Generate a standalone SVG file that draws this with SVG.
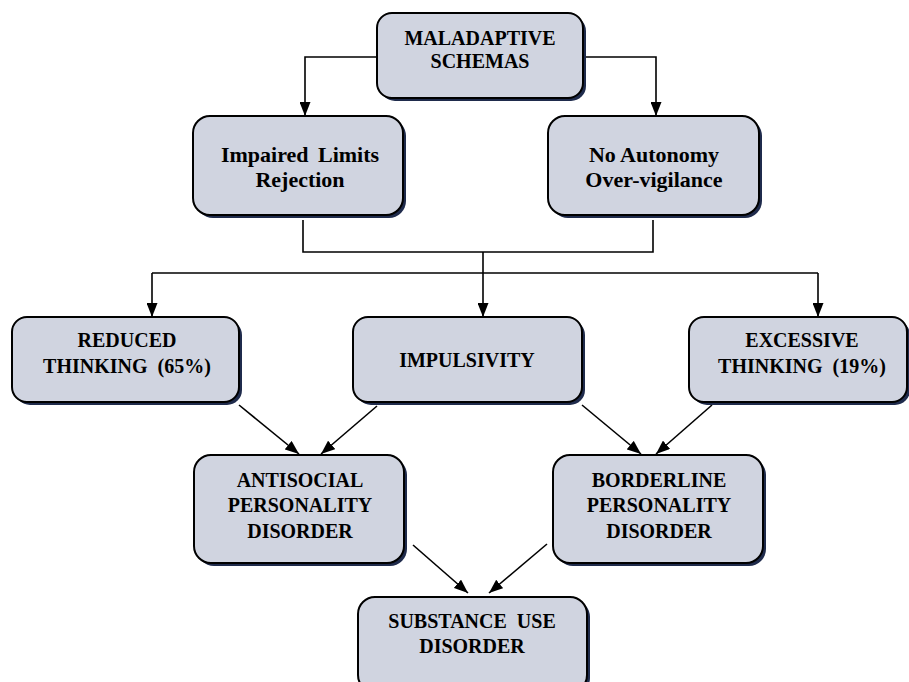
<svg xmlns="http://www.w3.org/2000/svg" width="909" height="682" viewBox="0 0 909 682">
<style>
.sh{fill:#1f2b4c}
.bx{fill:#d0d4e0;stroke:#000;stroke-width:2}
.t{font-family:"Liberation Serif","Times New Roman",serif;font-weight:bold;fill:#000;text-anchor:middle}
.c{font-size:20px}
.m{font-size:22px}
.ln{fill:none;stroke:#000;stroke-width:1.6}
</style>
<defs>
<marker id="ah" markerUnits="userSpaceOnUse" markerWidth="14" markerHeight="11" refX="14" refY="5.5" orient="auto">
<path d="M0,0 L14,5.5 L0,11 z" fill="#000"/>
</marker>
</defs>
<rect width="909" height="682" fill="#fff"/>
<g id="connectors">
<path class="ln" d="M377,57 H305 V116" marker-end="url(#ah)"/>
<path class="ln" d="M583,57 H656 V116" marker-end="url(#ah)"/>
<path class="ln" d="M303,220 V252 H653 V220"/>
<path class="ln" d="M483,252 V317" marker-end="url(#ah)"/>
<path class="ln" d="M152,273 H818"/>
<path class="ln" d="M152,273 V317" marker-end="url(#ah)"/>
<path class="ln" d="M818,273 V317" marker-end="url(#ah)"/>
<path class="ln" d="M239,405 L299,454" marker-end="url(#ah)"/>
<path class="ln" d="M377,406 L321,454" marker-end="url(#ah)"/>
<path class="ln" d="M582,405 L641,454" marker-end="url(#ah)"/>
<path class="ln" d="M712,405 L656,454" marker-end="url(#ah)"/>
<path class="ln" d="M413,545 L468,593" marker-end="url(#ah)"/>
<path class="ln" d="M547,544 L489,593" marker-end="url(#ah)"/>
</g>
<g id="maladaptive">
<rect class="sh" x="380" y="16" width="206" height="85" rx="15"/>
<rect class="bx" x="377" y="13" width="206" height="85" rx="15"/>
<text class="t c" x="480" y="45">MALADAPTIVE</text>
<text class="t c" x="480" y="68">SCHEMAS</text>
</g>
<g id="impaired">
<rect class="sh" x="196" y="119" width="210" height="99" rx="17"/>
<rect class="bx" x="193" y="116" width="210" height="99" rx="17"/>
<text class="t m" x="300" y="162" word-spacing="4">Impaired Limits</text>
<text class="t m" x="300" y="187">Rejection</text>
</g>
<g id="noautonomy">
<rect class="sh" x="551" y="119" width="211" height="99" rx="17"/>
<rect class="bx" x="548" y="116" width="211" height="99" rx="17"/>
<text class="t m" x="654" y="162">No Autonomy</text>
<text class="t m" x="654" y="187">Over-vigilance</text>
</g>
<g id="reduced">
<rect class="sh" x="15" y="320" width="227" height="85" rx="15"/>
<rect class="bx" x="12" y="317" width="227" height="85" rx="15"/>
<text class="t c" x="127" y="347">REDUCED</text>
<text class="t c" x="127" y="373" xml:space="preserve">THINKING  (65%)</text>
</g>
<g id="impulsivity">
<rect class="sh" x="356" y="320" width="229" height="85" rx="15"/>
<rect class="bx" x="353" y="317" width="229" height="85" rx="15"/>
<text class="t c" x="467" y="367">IMPULSIVITY</text>
</g>
<g id="excessive">
<rect class="sh" x="692" y="320" width="218" height="85" rx="15"/>
<rect class="bx" x="689" y="317" width="218" height="85" rx="15"/>
<text class="t c" x="802" y="347">EXCESSIVE</text>
<text class="t c" x="802" y="373" xml:space="preserve">THINKING  (19%)</text>
</g>
<g id="antisocial">
<rect class="sh" x="197" y="458" width="210" height="108" rx="17"/>
<rect class="bx" x="194" y="455" width="210" height="108" rx="17"/>
<text class="t c" x="300" y="487">ANTISOCIAL</text>
<text class="t c" x="300" y="512">PERSONALITY</text>
<text class="t c" x="300" y="538">DISORDER</text>
</g>
<g id="borderline">
<rect class="sh" x="556" y="458" width="210" height="108" rx="17"/>
<rect class="bx" x="553" y="455" width="210" height="108" rx="17"/>
<text class="t c" x="659" y="487">BORDERLINE</text>
<text class="t c" x="659" y="512">PERSONALITY</text>
<text class="t c" x="659" y="538">DISORDER</text>
</g>
<g id="substance">
<rect class="sh" x="361" y="600" width="229" height="95" rx="17"/>
<rect class="bx" x="358" y="597" width="229" height="95" rx="17"/>
<text class="t c" x="472" y="628" xml:space="preserve">SUBSTANCE  USE</text>
<text class="t c" x="472" y="653">DISORDER</text>
</g>
</svg>
